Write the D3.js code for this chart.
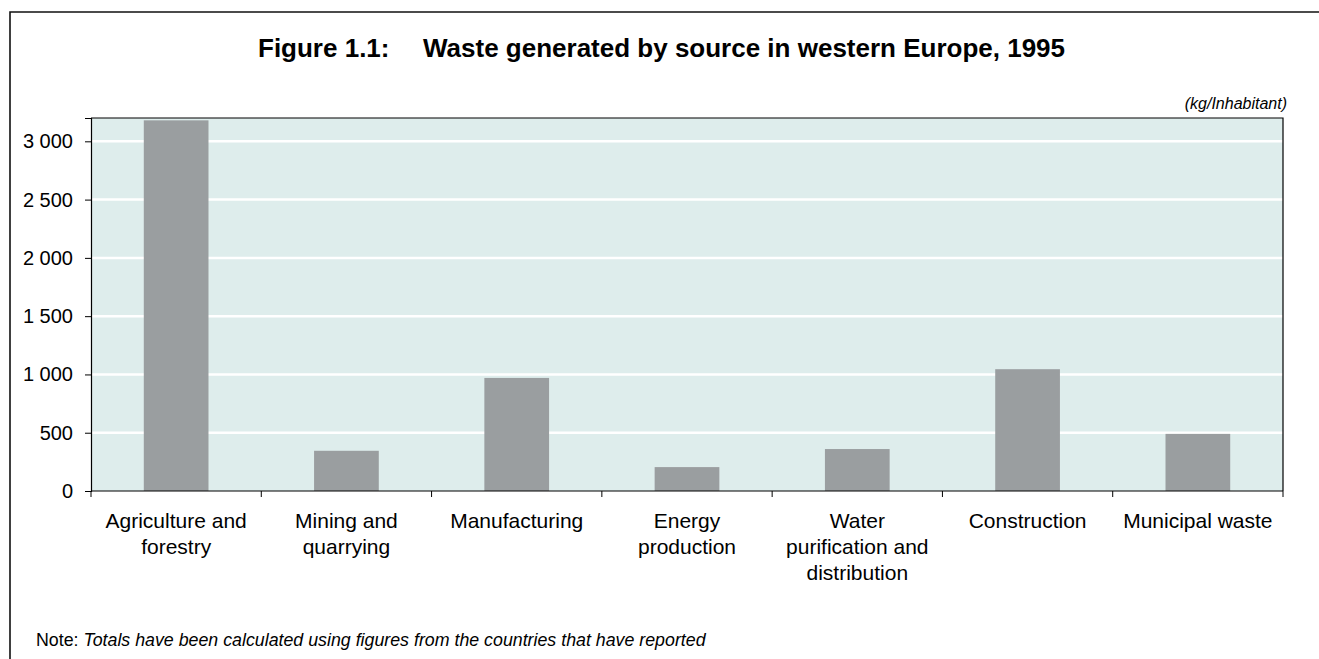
<!DOCTYPE html>
<html><head><meta charset="utf-8">
<script src="https://cdn.jsdelivr.net/npm/d3@7"></script>
<style>body{margin:0;background:#fff}svg{display:block}text{font-family:"Liberation Sans",Arial,sans-serif}</style>
</head><body>
<svg id="c" width="1319" height="659"></svg>
<script>
const categories = [["Agriculture and","forestry"],["Mining and","quarrying"],["Manufacturing"],["Energy","production"],["Water","purification and","distribution"],["Construction"],["Municipal waste"]];
const values = [3180, 345, 970, 205, 360, 1045, 490];
const yTicks = [0, 500, 1000, 1500, 2000, 2500, 3000];
const yMax = 3200;
const titleA = "Figure 1.1:";
const titleB = "Waste generated by source in western Europe, 1995";
const unitLabel = "(kg/Inhabitant)";
const noteLabel = "Note:";
const noteText = "Totals have been calculated using figures from the countries that have reported";

const svg = d3.select("#c");
const m = {l:91, t:118, r:1283, b:491};
const keys = categories.map((c,i)=>i);
const x = d3.scaleBand().domain(keys).range([m.l, m.r]).paddingInner(0.62).paddingOuter(0.31);
const y = d3.scaleLinear().domain([0, yMax]).range([m.b, m.t]);

// frame
svg.append("path").attr("d",`M10,659 L10,12 L1319,12`).attr("fill","none").attr("stroke","#111").attr("stroke-width",1.6);

// title
svg.append("text").attr("x",258).attr("y",57).attr("font-size",26).attr("font-weight","bold").attr("fill","#000").text(titleA);
svg.append("text").attr("x",423).attr("y",57).attr("font-size",26).attr("font-weight","bold").attr("fill","#000").text(titleB);

// unit
svg.append("text").attr("x",1287).attr("y",109).attr("text-anchor","end").attr("font-size",16).attr("font-style","italic").text(unitLabel);

// plot bg
svg.append("rect").attr("x",m.l).attr("y",m.t).attr("width",m.r-m.l).attr("height",m.b-m.t).attr("fill","#deedec");

// gridlines
svg.append("g").selectAll("line").data(yTicks.filter(d=>d>0)).join("line")
  .attr("x1",m.l).attr("x2",m.r).attr("y1",d=>y(d)).attr("y2",d=>y(d))
  .attr("stroke","#fff").attr("stroke-width",2.5);

// bars
svg.append("g").selectAll("rect").data(values).join("rect")
  .attr("x",(d,i)=>x(i)).attr("width",x.bandwidth())
  .attr("y",d=>y(d)).attr("height",d=>y(0)-y(d)).attr("fill","#9a9ea0");

// plot border top/right
svg.append("path").attr("d",`M${m.l},${m.t} L${m.r},${m.t} L${m.r},${m.b}`).attr("fill","none").attr("stroke","#000").attr("stroke-width",1.2);

// y axis
const yAxis = d3.axisLeft(y).tickValues(yTicks).tickSize(6).tickPadding(12)
  .tickFormat(d=>d3.format(",")(d).replace(/,/g," "));
const gy = svg.append("g").attr("transform",`translate(${m.l},0)`).call(yAxis);
gy.select(".domain").attr("stroke","#000").attr("stroke-width",1.2);
gy.selectAll(".tick line").attr("stroke","#000");
gy.selectAll(".tick text").attr("font-size",20).attr("fill","#000").attr("font-family","Liberation Sans, Arial, sans-serif");

// x axis: ticks at band boundaries
const bounds = d3.range(keys.length+1).map(i=>m.l + i*(m.r-m.l)/keys.length);
svg.append("line").attr("x1",m.l).attr("x2",m.r).attr("y1",m.b).attr("y2",m.b).attr("stroke","#000").attr("stroke-width",1.2);
svg.append("g").selectAll("line").data(bounds).join("line")
  .attr("x1",d=>d).attr("x2",d=>d).attr("y1",m.b).attr("y2",m.b+6).attr("stroke","#000").attr("stroke-width",1);

// category labels
const lab = svg.append("g").selectAll("text").data(categories).join("text")
  .attr("x",(d,i)=>x(i)+x.bandwidth()/2).attr("y",528).attr("text-anchor","middle").attr("font-size",21).attr("fill","#000");
lab.selectAll("tspan").data(d=>d).join("tspan")
  .attr("x",function(){return this.parentNode.getAttribute("x");})
  .attr("dy",(d,i)=>i===0?0:26).text(d=>d);

// note
const nt = svg.append("text").attr("x",36).attr("y",646).attr("font-size",17.8).attr("fill","#000");
nt.append("tspan").text(noteLabel+" ");
nt.append("tspan").attr("font-style","italic").text(noteText);
</script>
</body></html>
